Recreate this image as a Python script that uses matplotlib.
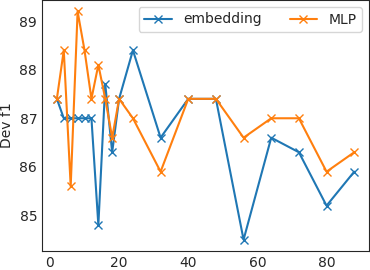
import matplotlib
matplotlib.use("Agg")
import matplotlib.pyplot as plt
import seaborn as sns

# hidden size vs dev f1
sizes = [2, 4, 6, 8, 10, 12, 14, 16, 18, 20, 24, 32, 40, 48, 56, 64, 72, 80, 88]
embedding = [87.4, 87.0, 87.0, 87.0, 87.0, 87.0, 84.8, 87.7, 86.3, 87.4,
             88.4, 86.6, 87.4, 87.4, 84.5, 86.6, 86.3, 85.2, 85.9]
mlp = [87.4, 88.4, 85.6, 89.2, 88.4, 87.4, 88.1, 87.4, 86.6, 87.4,
       87.0, 85.9, 87.4, 87.4, 86.6, 87.0, 87.0, 85.9, 86.3]

sns.set_style("white")
plt.rcParams["font.family"] = ["DejaVu Sans"]

fig = plt.figure(figsize=(3.7, 2.7), dpi=100)
ax = fig.add_axes([0.1135, 0.07, 0.884, 0.93])

ax.plot(sizes, embedding, marker="x", label="embedding")
ax.plot(sizes, mlp, marker="x", label="MLP")

ax.set_ylabel("Dev f1", fontsize=10)
ax.set_xticks([0, 20, 40, 60, 80])
ax.set_yticks([85, 86, 87, 88, 89])
ax.tick_params(labelsize=10, length=0)
ax.legend(loc="upper right", ncol=2, fontsize=10)

fig.savefig("out.png", dpi=100)
